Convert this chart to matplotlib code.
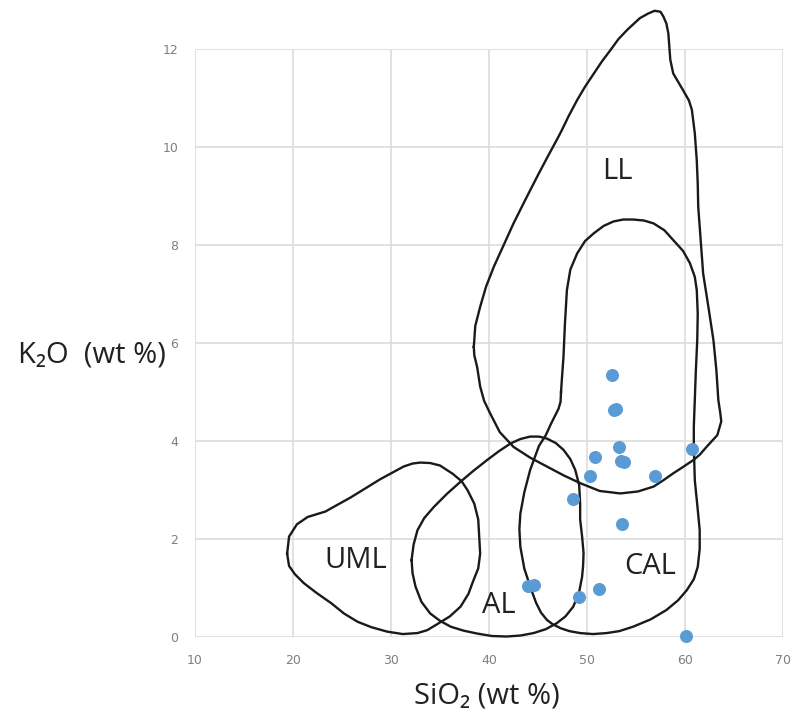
import matplotlib.pyplot as plt

# sample points (SiO2, K2O)
sio2 = [52.6, 52.8, 53.0, 53.3, 53.5, 53.8, 50.8, 50.3, 56.9, 60.7, 48.6, 53.6, 44.0, 44.6, 49.2, 51.2, 60.1]
k2o = [5.35, 4.63, 4.66, 3.87, 3.60, 3.57, 3.67, 3.29, 3.29, 3.83, 2.81, 2.31, 1.04, 1.06, 0.82, 0.97, 0.02]

# field outlines
uml_x = [19.4, 19.6, 20.4, 21.5, 23.3, 25.9, 28.9, 31.3, 32.2, 33.0, 34.0, 35.0, 36.3, 37.2, 37.8, 38.5, 38.9,
         39.1, 38.9, 38.4, 37.9, 37.1, 36.0, 34.7, 33.7, 32.7, 31.2, 29.6, 28.0, 26.6, 25.2, 23.9, 22.4,
         21.1, 20.2, 19.6, 19.4]
uml_y = [1.70, 2.05, 2.30, 2.45, 2.56, 2.85, 3.22, 3.48, 3.54, 3.56, 3.55, 3.50, 3.33, 3.18, 3.00, 2.72, 2.40,
         1.70, 1.40, 1.15, 0.88, 0.62, 0.42, 0.26, 0.14, 0.08, 0.06, 0.11, 0.20, 0.31, 0.48, 0.69, 0.90,
         1.10, 1.28, 1.45, 1.70]

al_x = [32.1, 32.3, 32.7, 33.4, 34.4, 35.7, 37.1, 38.4, 39.8, 41.0, 42.2, 43.2, 44.2, 45.1, 45.9, 46.8, 47.6,
        48.3, 48.8, 49.2, 49.3, 49.3, 49.5, 49.65, 49.6, 49.5, 49.2, 48.6, 47.8, 46.9, 45.8,
        44.55, 43.2, 41.8, 40.3, 38.8, 37.4, 36.1, 35.0, 34.0, 33.1, 32.5, 32.2, 32.1]
al_y = [1.57, 1.88, 2.18, 2.43, 2.66, 2.92, 3.17, 3.39, 3.61, 3.79, 3.95, 4.04, 4.09, 4.09, 4.05, 3.96, 3.82,
        3.63, 3.41, 3.10, 2.73, 2.40, 2.05, 1.71, 1.45, 1.23, 0.92, 0.62, 0.42, 0.28, 0.16,
        0.08, 0.03, 0.01, 0.02, 0.07, 0.13, 0.21, 0.33, 0.48, 0.72, 1.03, 1.30, 1.57]

cal_x = [47.35, 47.45, 47.6, 47.75, 47.95, 48.3, 49.0, 49.8, 50.7, 51.7, 52.7, 53.7, 54.7, 55.8, 56.8, 57.9,
         58.8, 59.8, 60.5, 61.0, 61.2, 61.3, 61.25, 61.1, 61.0, 60.9, 60.9, 61.0, 61.3, 61.5, 61.5,
         61.3, 60.9, 60.2, 59.3, 58.1, 56.5, 54.7, 53.3, 52.0, 50.6, 49.3, 48.2, 47.3, 46.5, 45.9, 45.3,
         44.8, 44.2, 43.6, 43.2, 43.1, 43.2, 43.6, 44.2, 45.1, 45.8, 46.3, 46.75, 47.1, 47.3, 47.35]
cal_y = [5.00, 5.30, 5.72, 6.40, 7.08, 7.50, 7.83, 8.08, 8.24, 8.39, 8.48, 8.52, 8.52, 8.50, 8.44, 8.30,
         8.10, 7.88, 7.63, 7.35, 7.08, 6.60, 6.06, 5.40, 4.84, 4.30, 3.90, 3.20, 2.60, 2.18, 1.80,
         1.43, 1.18, 0.96, 0.75, 0.55, 0.36, 0.21, 0.12, 0.08, 0.06, 0.08, 0.12, 0.18, 0.26, 0.35, 0.50,
         0.70, 1.03, 1.40, 1.84, 2.20, 2.52, 2.95, 3.41, 3.90, 4.12, 4.34, 4.52, 4.66, 4.80, 5.00]

ll_x = [38.45, 38.6, 39.1, 39.7, 40.5, 41.5, 42.5, 43.7, 44.9, 45.9, 46.9, 47.4, 48.1, 49.0, 49.8, 50.7,
        51.5, 52.4, 53.2, 54.1, 54.8, 55.4, 56.2, 56.9, 57.5, 57.8, 58.1, 58.3, 58.4, 58.5,
        58.8, 59.8, 60.4, 60.7, 61.0, 61.2, 61.3, 61.35, 61.6, 61.85, 62.4, 62.9, 63.2, 63.4, 63.6,
        63.7, 63.3, 62.2, 61.5, 60.85, 59.8, 58.8, 57.8, 56.8, 55.2, 53.4, 51.3, 49.3, 47.6, 45.9,
        44.2, 42.5, 41.1, 40.1, 39.5, 39.1, 38.8, 38.5, 38.45]
ll_y = [5.92, 6.35, 6.74, 7.15, 7.56, 8.00, 8.44, 8.92, 9.39, 9.77, 10.14, 10.33, 10.62, 10.96, 11.23, 11.50,
        11.74, 11.98, 12.20, 12.39, 12.52, 12.63, 12.72, 12.78, 12.76, 12.66, 12.52, 12.32, 12.05, 11.78,
        11.50, 11.16, 10.95, 10.76, 10.28, 9.73, 9.25, 8.78, 8.10, 7.42, 6.72, 6.06, 5.45, 4.84, 4.57,
        4.40, 4.12, 3.88, 3.72, 3.61, 3.47, 3.34, 3.20, 3.07, 2.97, 2.93, 2.98, 3.14, 3.30, 3.48,
        3.66, 3.88, 4.18, 4.57, 4.82, 5.11, 5.50, 5.75, 5.92]

labels = ['UML', 'AL', 'CAL', 'LL']
label_x = [26.4, 41.0, 56.4, 53.1]
label_y = [1.57, 0.65, 1.43, 9.50]

fig = plt.figure(figsize=(7.96, 7.13), dpi=100)
ax = fig.add_axes([195 / 796, 1 - 637 / 713, 588 / 796, 588 / 713])

ax.set_xlim(10, 70)
ax.set_ylim(0, 12)
ax.set_xticks(range(10, 71, 10))
ax.set_yticks(range(0, 13, 2))
ax.grid(True, color='#dcdcdc', linewidth=1.2)
ax.set_axisbelow(True)
for s in ax.spines.values():
    s.set_visible(False)
ax.tick_params(length=0, labelsize=9, labelcolor='#7f7f7f', pad=12)

for xs, ys in [(uml_x, uml_y), (al_x, al_y), (cal_x, cal_y), (ll_x, ll_y)]:
    ax.plot(xs, ys, color='#1a1a1a', linewidth=1.7, solid_joinstyle='round', clip_on=False)

ax.scatter(sio2, k2o, s=70, color='#5b9bd5', zorder=3, clip_on=False)

for t, x, y in zip(labels, label_x, label_y):
    ax.text(x, y, t, fontsize=21, ha='center', va='center', color='#222222',
            family=['Open Sans', 'DejaVu Sans'])

ax.set_xlabel('SiO₂ (wt %)', fontsize=21, family=['Open Sans', 'DejaVu Sans'], color='#222222')
ax.xaxis.set_label_coords(0.497, -0.075)
ax.set_ylabel('K₂O  (wt %)', fontsize=21, family=['Open Sans', 'DejaVu Sans'], color='#222222',
              rotation=0, ha='right', va='center')
ax.yaxis.set_label_coords(-0.05, 0.48)

fig.savefig('out.png', dpi=100)
